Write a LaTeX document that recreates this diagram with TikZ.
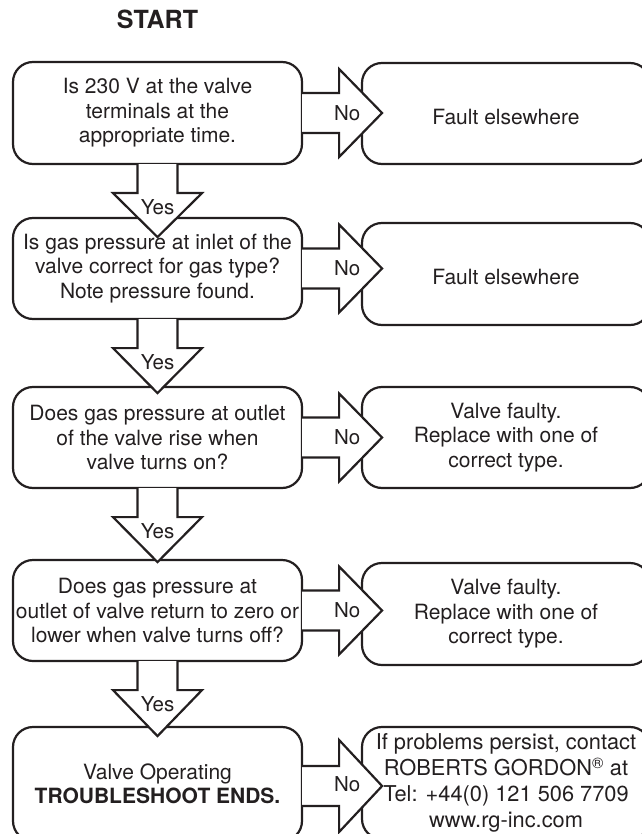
\documentclass[tikz,border=0pt]{standalone}
\usepackage{fontspec}
\setmainfont{TeX Gyre Heros}
\usetikzlibrary{calc}
\definecolor{ink}{HTML}{231F20}

\tikzset{
  qbox/.style={draw=ink, text=ink, line width=2.2pt, rounded corners=20pt,
    minimum width=289pt, minimum height=102pt, inner sep=0pt, align=center,
    execute at begin node={\rule{0pt}{22pt}},
    font=\fontsize{21}{24.5}\selectfont},
  abox/.style={qbox, minimum width=288pt},
  onebox/.style={abox, execute at begin node={}},
  blockarrow/.style={draw=ink, fill=white, line width=2.2pt, line join=miter},
  lbl/.style={text=ink, inner sep=0pt, font=\fontsize{20.5}{24}\selectfont},
}

\begin{document}
\begin{tikzpicture}[x=1pt,y=-1pt]
  \useasboundingbox (0,0) rectangle (641,834);

  \node[text=ink,font=\bfseries\fontsize{25}{30}\selectfont] (start) at (157.5,19) {START};

  % question boxes
  \node[qbox] (q1) at (157.5,113) {Is 230 V at the valve\\terminals at the\\appropriate time.};
  \node[qbox,minimum height=101pt] (q2) at (157.5,268.5) {Is gas pressure at inlet of the\\valve correct for gas type?\\Note pressure found.};
  \node[qbox,minimum height=101pt] (q3) at (157.5,437.5) {Does gas pressure at outlet\\of the valve rise when\\valve turns on?};
  \node[qbox,minimum height=101pt] (q4) at (157.5,610.5) {Does gas pressure at\\outlet of valve return to zero or\\lower when valve turns off?};
  \node[qbox,minimum height=114pt] (q5) at (157.5,784) {Valve Operating\\\textbf{TROUBLESHOOT ENDS.}};

  % answer boxes
  \node[onebox,minimum height=101pt] (a1) at (506,113.5) {Fault elsewhere};
  \node[onebox] (a2) at (506,274) {Fault elsewhere};
  \node[abox,minimum height=101pt] (a3) at (506,437.5) {Valve faulty.\\Replace with one of\\correct type.};
  \node[abox] (a4) at (506,614) {Valve faulty.\\Replace with one of\\correct type.};
  \node[onebox,minimum height=112pt,font=\fontsize{21.8}{26}\selectfont] (a5) at (506,783)
    {If problems persist, contact\\ROBERTS GORDON\textsuperscript{\textregistered} at\\Tel: +44(0) 121 506 7709\\www.rg-inc.com};

  % Yes arrows
  \draw[blockarrow] ($(q1.south)+(-20,-1)$) -- ++(0,29) -- ++(-24.5,0) -- ++(44.5,44) -- ++(44.5,-44) -- ++(-24.5,0) -- ++(0,-29);
  \node[lbl] (yes1) at ($(q1.south)+(0,42.5)$) {Yes};

  \draw[blockarrow] ($(q2.south)+(-20,-1)$) -- ++(0,29) -- ++(-24.5,0) -- ++(44.5,45) -- ++(44.5,-45) -- ++(-24.5,0) -- ++(0,-29);
  \node[lbl] (yes2) at ($(q2.south)+(0,42.5)$) {Yes};

  \draw[blockarrow] ($(q3.south)+(-20,-1)$) -- ++(0,29) -- ++(-24.5,0) -- ++(44.5,45) -- ++(44.5,-45) -- ++(-24.5,0) -- ++(0,-29);
  \node[lbl] (yes3) at ($(q3.south)+(0,42.5)$) {Yes};

  \draw[blockarrow] ($(q4.south)+(-20,-1)$) -- ++(0,29) -- ++(-24.5,0) -- ++(44.5,46) -- ++(44.5,-46) -- ++(-24.5,0) -- ++(0,-29);
  \node[lbl] (yes4) at ($(q4.south)+(0,42.5)$) {Yes};

  % No arrows
  \draw[blockarrow] ($(q1.east)+(-1,-20)$) -- ++(37,0) -- ++(0,-24) -- ++(43,44) -- ++(-43,44) -- ++(0,-24) -- ++(-37,0);
  \node[lbl] (no1) at ($(q1.east)+(44,0)$) {No};

  \draw[blockarrow] ($(q2.east)+(-1,-20)$) -- ++(37,0) -- ++(0,-24) -- ++(43,44) -- ++(-43,44) -- ++(0,-24) -- ++(-37,0);
  \node[lbl] (no2) at ($(q2.east)+(44,0)$) {No};

  \draw[blockarrow] ($(q3.east)+(-1,-20)$) -- ++(37,0) -- ++(0,-24) -- ++(43,44) -- ++(-43,44) -- ++(0,-24) -- ++(-37,0);
  \node[lbl] (no3) at ($(q3.east)+(44,0)$) {No};

  \draw[blockarrow] ($(q4.east)+(-1,-20)$) -- ++(37,0) -- ++(0,-24) -- ++(43,44) -- ++(-43,44) -- ++(0,-24) -- ++(-37,0);
  \node[lbl] (no4) at ($(q4.east)+(44,0)$) {No};

  \draw[blockarrow] ($(q5.east)+(-1,-18)$) -- ++(37,0) -- ++(0,-26) -- ++(43,46) -- ++(-43,46) -- ++(0,-26) -- ++(-37,0);
  \node[lbl] (no5) at ($(q5.east)+(44,0)$) {No};
\end{tikzpicture}
\end{document}
